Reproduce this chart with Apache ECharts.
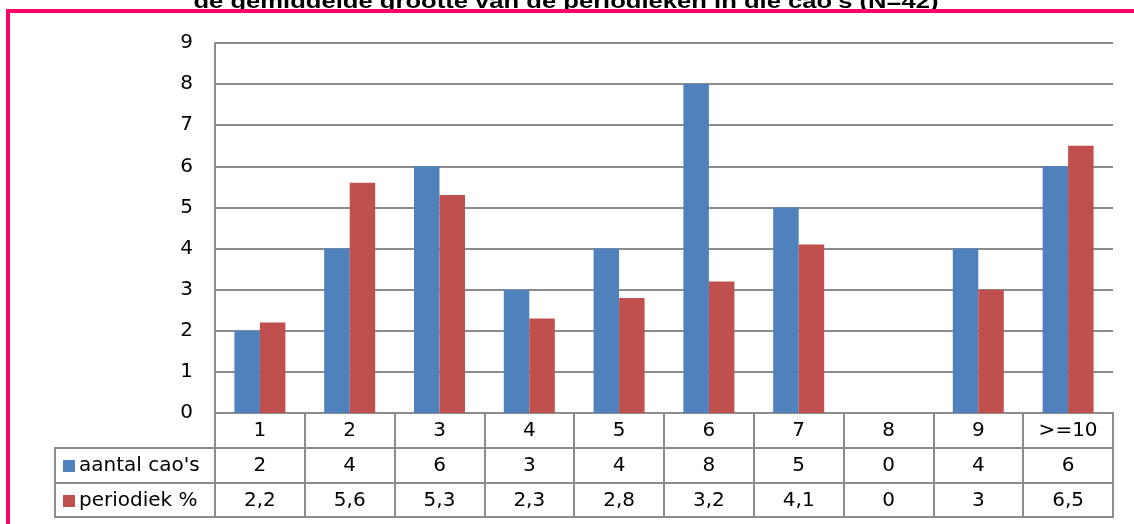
<!DOCTYPE html>
<html>
<head>
<meta charset="utf-8">
<script src="https://cdn.jsdelivr.net/npm/echarts@6/dist/echarts.min.js"></script>
<style>
html,body{margin:0;padding:0;background:#fff;}
#c{width:1134px;height:524px;}
</style>
</head>
<body>
<div id="c"></div>
<script>
var categories = ['1','2','3','4','5','6','7','8','9','>=10'];
var aantalCaos = [2,4,6,3,4,8,5,0,4,6];
var periodiek = [2.2,5.6,5.3,2.3,2.8,3.2,4.1,0,3,6.5];
var seriesNames = ["aantal cao's", 'periodiek %'];
var yTicks = [0,1,2,3,4,5,6,7,8,9];
var titleText = "de gemiddelde grootte van de periodieken in die cao's (N=42)";

var FONT = 'DejaVu Sans';
var GRAY = '#8c8c8c';
var FS = 20;
var gridLeft = 215, gridRight = 21, gridTop = 43, gridBottom = 111;
var rowH = 35;

function fmt(v){ return String(v).replace('.', ','); }

var tableAxisBase = {
  type: 'category',
  gridIndex: 0,
  position: 'bottom',
  boundaryGap: true,
  axisLine: {show: true, lineStyle: {color: GRAY, width: 2}},
  axisTick: {show: true, interval: 0, length: rowH, lineStyle: {color: GRAY, width: 2}},
  axisLabel: {interval: 0, margin: rowH/2, verticalAlign: 'middle', color: '#000', fontFamily: FONT, fontSize: FS},
  splitLine: {show: false}
};

var chart = echarts.init(document.getElementById('c'));
var option = {
  animation: false,
  backgroundColor: '#fff',
  grid: {left: gridLeft, right: gridRight, top: gridTop, bottom: gridBottom, containLabel: false},
  legend: {
    orient: 'vertical',
    left: 58,
    top: 450,
    itemWidth: 12,
    itemHeight: 12,
    itemGap: 13,
    icon: 'rect',
    textStyle: {fontFamily: FONT, fontSize: FS, color: '#000', lineHeight: 22, padding: [0,0,0,-1]},
    data: seriesNames
  },
  xAxis: [
    Object.assign({}, tableAxisBase, {data: categories, offset: 0}),
    Object.assign({}, tableAxisBase, {data: aantalCaos.map(fmt), offset: rowH}),
    Object.assign({}, tableAxisBase, {data: periodiek.map(fmt), offset: rowH*2}),
    Object.assign({}, tableAxisBase, {data: categories, offset: rowH*3 - 1, axisTick: {show: false}, axisLabel: {show: false}})
  ],
  yAxis: {
    type: 'value',
    min: 0,
    max: 9,
    interval: 1,
    axisLine: {show: true, lineStyle: {color: GRAY, width: 2}},
    axisTick: {show: false},
    axisLabel: {margin: 22, color: '#000', fontFamily: FONT, fontSize: FS,
      formatter: function(v){ return yTicks.indexOf(v) >= 0 ? String(v) : ''; }},
    splitLine: {show: true, lineStyle: {color: GRAY, width: 2}}
  },
  series: [
    {name: seriesNames[0], type: 'bar', xAxisIndex: 0, data: aantalCaos, barWidth: '28.4%', barGap: '0%',
     itemStyle: {color: '#4F81BD'}},
    {name: seriesNames[1], type: 'bar', xAxisIndex: 0, data: periodiek, barWidth: '28.4%', barGap: '0%',
     itemStyle: {color: '#C0504D'}}
  ],
  graphic: [
    {type: 'text', z: 10, x: 566, y: 12, scaleX: 1.28, scaleY: 1,
      style: {text: titleText, x: 0, y: 0, align: 'center', verticalAlign: 'bottom',
      font: 'bold 20px "Liberation Sans", Arial, sans-serif', fill: '#000'}},
    {type: 'line', z: 5, shape: {x1: 55, y1: 448, x2: 215, y2: 448}, style: {stroke: GRAY, lineWidth: 2}},
    {type: 'line', z: 5, shape: {x1: 55, y1: 483, x2: 215, y2: 483}, style: {stroke: GRAY, lineWidth: 2}},
    {type: 'line', z: 5, shape: {x1: 55, y1: 517, x2: 215, y2: 517}, style: {stroke: GRAY, lineWidth: 2}},
    {type: 'line', z: 5, shape: {x1: 55, y1: 447, x2: 55, y2: 518}, style: {stroke: GRAY, lineWidth: 2}},
    {type: 'rect', z: 20, shape: {x: 8, y: 11, width: 1200, height: 600}, style: {fill: 'none', stroke: '#ff0066', lineWidth: 4}}
  ]
};
chart.setOption(option);
</script>
</body>
</html>
